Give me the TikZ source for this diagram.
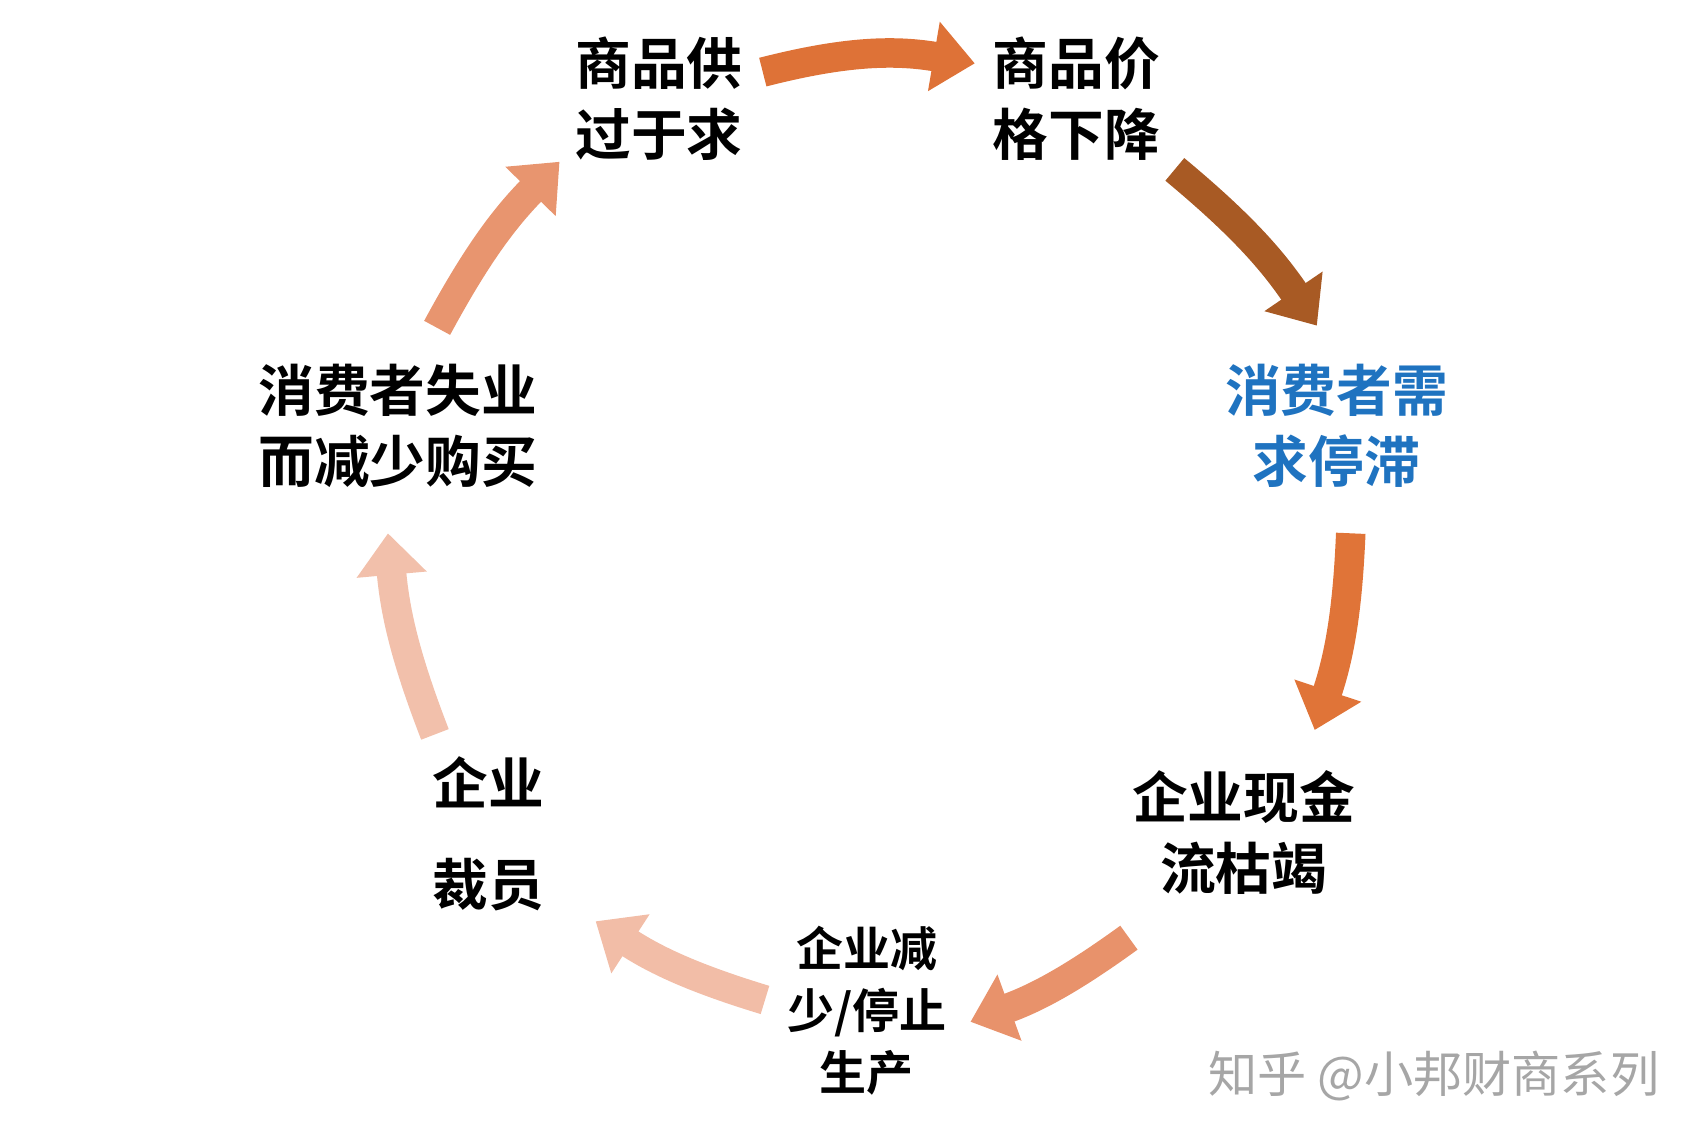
\documentclass[tikz,border=0pt]{standalone}
\usepackage{fontspec}
\newfontfamily\cjk{Noto Sans CJK SC}
\newfontfamily\cjkb{Noto Sans CJK SC Bold}
\usetikzlibrary{arrows.meta}
\definecolor{a1}{HTML}{DE7237}
\definecolor{a2}{HTML}{A85A24}
\definecolor{a3}{HTML}{E07438}
\definecolor{a4}{HTML}{E8926B}
\definecolor{a5}{HTML}{F2BDA7}
\definecolor{a6}{HTML}{F2C0AB}
\definecolor{a7}{HTML}{E8956F}
\definecolor{blu}{HTML}{1F73C0}
\tikzset{
 lbl/.style={align=center,font=\cjkb\fontsize{51}{65}\selectfont,text=black},
 arr/.style={line width=27pt,-{Triangle[width=62pt,length=38pt]}},
}
\begin{document}
\begin{tikzpicture}[x=1pt,y=-1pt]
\useasboundingbox (0,0) rectangle (1551,1038);
\node[lbl] (n1) at (603,90) {商品供\\过于求};
\node[lbl] (n2) at (985,90) {商品价\\格下降};
\node[lbl,text=blu] (n3) at (1223,390) {消费者需\\求停滞};
\node[lbl] (n4) at (1138,762) {企业现金\\流枯竭};
\node[lbl,font=\cjkb\fontsize{43}{57}\selectfont] (n5) at (793,925) {企业减\\少/停止\\生产};
\node[lbl,font=\cjkb\fontsize{51}{92}\selectfont] (n6) at (447,763) {企业\\裁员};
\node[lbl] (n7) at (364,390) {消费者失业\\而减少购买};
\node[font=\cjk\fontsize{45}{50}\selectfont,text=black!35] (wm) at (1312,985) {知乎 @小邦财商系列};
\coordinate (s1) at (698,66); \coordinate (e1) at (892,58);
\coordinate (s2) at (1075,155); \coordinate (e2) at (1205,298);
\coordinate (s3) at (1236,488); \coordinate (e3) at (1203,668);
\coordinate (s4) at (1033,858); \coordinate (e4) at (888,935);
\coordinate (s5) at (700,915); \coordinate (e5) at (545,843);
\coordinate (s6) at (398,672); \coordinate (e6) at (355,488);
\coordinate (s7) at (400,300); \coordinate (e7) at (512,148);
\draw[arr,a1] (s1) to[bend left=12] (e1);
\draw[arr,a2] (s2) to[bend left=8] (e2);
\draw[arr,a3] (s3) to[bend left=8] (e3);
\draw[arr,a4] (s4) to[bend left=8] (e4);
\draw[arr,a5] (s5) to[bend left=8] (e5);
\draw[arr,a6] (s6) to[bend left=8] (e6);
\draw[arr,a7] (s7) to[bend left=8] (e7);
\end{tikzpicture}
\end{document}
